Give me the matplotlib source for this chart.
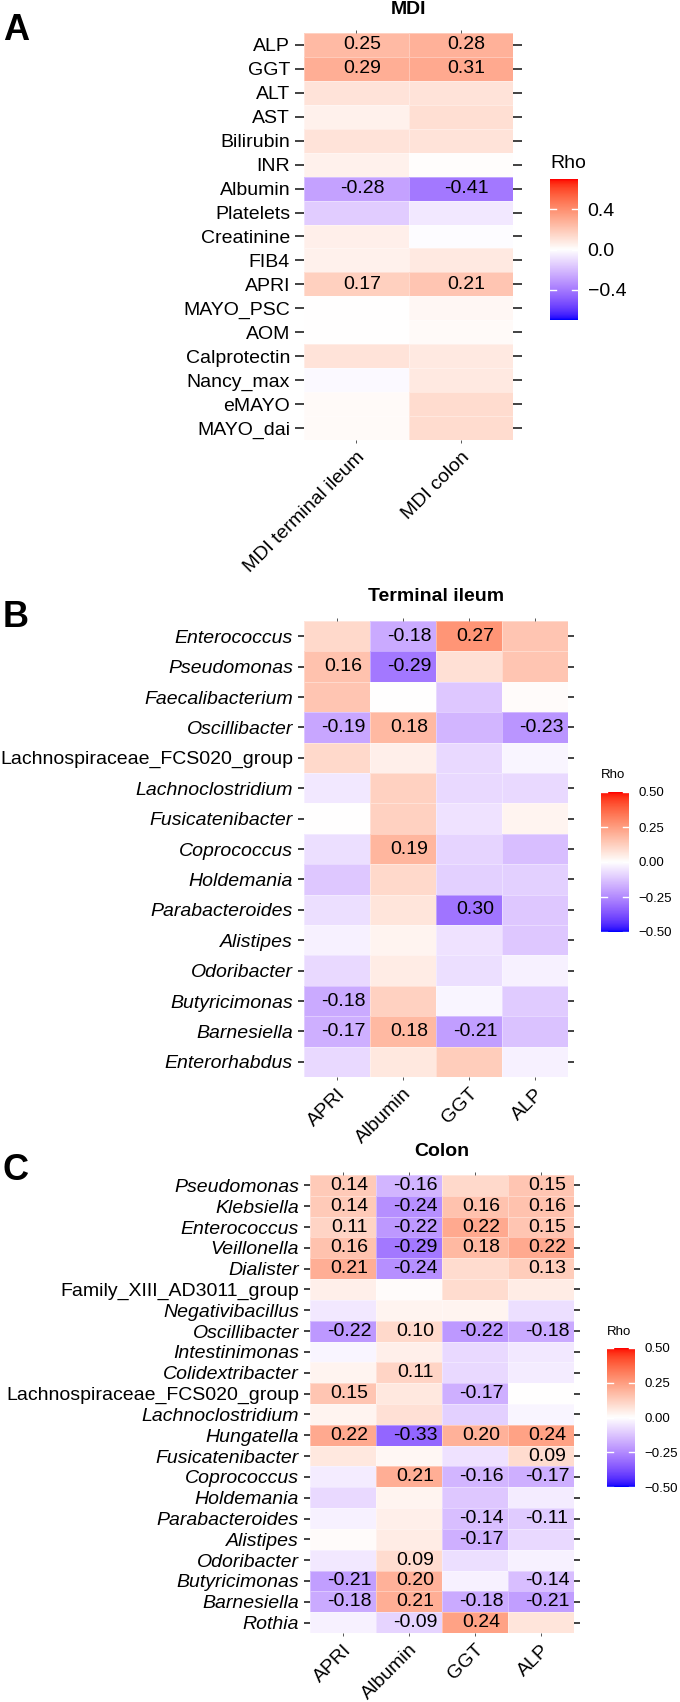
import numpy as np
import matplotlib
matplotlib.use("Agg")
import matplotlib.pyplot as plt
from matplotlib.colors import ListedColormap
from matplotlib.transforms import offset_copy

plt.rcParams['font.family'] = ['Liberation Sans', 'DejaVu Sans']

# ---- panel A: MDI vs clinical parameters
mdi_rows = ['ALP', 'GGT', 'ALT', 'AST', 'Bilirubin', 'INR', 'Albumin', 'Platelets',
            'Creatinine', 'FIB4', 'APRI', 'MAYO_PSC', 'AOM', 'Calprotectin',
            'Nancy_max', 'eMAYO', 'MAYO_dai']
mdi_cols = ['MDI terminal ileum', 'MDI colon']
mdi_rho = [[0.25, 0.28], [0.29, 0.31], [0.10, 0.10], [0.05, 0.12], [0.10, 0.10],
           [0.05, 0.01], [-0.28, -0.41], [-0.15, -0.07], [0.06, -0.01], [0.05, 0.08],
           [0.17, 0.21], [0.00, 0.03], [0.00, 0.02], [0.10, 0.08], [-0.02, 0.08],
           [0.02, 0.13], [0.02, 0.13]]
mdi_text = [['0.25', '0.28'], ['0.29', '0.31'], ['', ''], ['', ''], ['', ''], ['', ''],
            ['-0.28', '-0.41'], ['', ''], ['', ''], ['', ''], ['0.17', '0.21'],
            ['', ''], ['', ''], ['', ''], ['', ''], ['', ''], ['', '']]

# ---- panel B: terminal ileum taxa
clin_cols = ['APRI', 'Albumin', 'GGT', 'ALP']
ti_rows = ['Enterococcus', 'Pseudomonas', 'Faecalibacterium', 'Oscillibacter',
           'Lachnospiraceae_FCS020_group', 'Lachnoclostridium', 'Fusicatenibacter',
           'Coprococcus', 'Holdemania', 'Parabacteroides', 'Alistipes', 'Odoribacter',
           'Butyricimonas', 'Barnesiella', 'Enterorhabdus']
ti_rho = [[0.10, -0.18, 0.27, 0.15],
          [0.16, -0.29, 0.08, 0.15],
          [0.15, 0.00, -0.12, 0.01],
          [-0.19, 0.18, -0.16, -0.23],
          [0.10, 0.04, -0.08, -0.02],
          [-0.05, 0.12, -0.08, -0.08],
          [0.00, 0.12, -0.06, 0.03],
          [-0.07, 0.19, -0.09, -0.14],
          [-0.12, 0.10, -0.10, -0.10],
          [-0.07, 0.07, -0.30, -0.12],
          [-0.03, 0.03, -0.06, -0.12],
          [-0.08, 0.05, -0.07, -0.03],
          [-0.18, 0.12, -0.02, -0.11],
          [-0.17, 0.18, -0.21, -0.13],
          [-0.08, 0.06, 0.13, -0.03]]
ti_text = [['', '-0.18', '0.27', ''],
           ['0.16', '-0.29', '', ''],
           ['', '', '', ''],
           ['-0.19', '0.18', '', '-0.23'],
           ['', '', '', ''], ['', '', '', ''], ['', '', '', ''],
           ['', '0.19', '', ''],
           ['', '', '', ''],
           ['', '', '0.30', ''],
           ['', '', '', ''], ['', '', '', ''],
           ['-0.18', '', '', ''],
           ['-0.17', '0.18', '-0.21', ''],
           ['', '', '', '']]

# ---- panel C: colon taxa
co_rows = ['Pseudomonas', 'Klebsiella', 'Enterococcus', 'Veillonella', 'Dialister',
           'Family_XIII_AD3011_group', 'Negativibacillus', 'Oscillibacter',
           'Intestinimonas', 'Colidextribacter', 'Lachnospiraceae_FCS020_group',
           'Lachnoclostridium', 'Hungatella', 'Fusicatenibacter', 'Coprococcus',
           'Holdemania', 'Parabacteroides', 'Alistipes', 'Odoribacter',
           'Butyricimonas', 'Barnesiella', 'Rothia']
co_rho = [[0.14, -0.16, 0.10, 0.15],
          [0.14, -0.24, 0.16, 0.16],
          [0.11, -0.22, 0.22, 0.15],
          [0.16, -0.29, 0.18, 0.22],
          [0.21, -0.24, 0.09, 0.13],
          [0.04, 0.01, 0.09, 0.05],
          [-0.05, 0.03, 0.03, -0.07],
          [-0.22, 0.10, -0.22, -0.18],
          [-0.02, 0.04, -0.08, -0.05],
          [0.03, 0.11, -0.08, -0.04],
          [0.15, 0.06, -0.17, 0.00],
          [0.03, 0.08, -0.10, -0.02],
          [0.22, -0.33, 0.20, 0.24],
          [0.06, 0.02, -0.06, 0.09],
          [-0.04, 0.21, -0.16, -0.17],
          [-0.08, 0.03, -0.12, -0.04],
          [-0.03, 0.04, -0.14, -0.11],
          [0.01, 0.05, -0.17, -0.08],
          [-0.05, 0.09, -0.07, -0.03],
          [-0.21, 0.20, -0.03, -0.14],
          [-0.18, 0.21, -0.18, -0.21],
          [-0.03, -0.09, 0.24, 0.07]]
co_text = [['0.14', '-0.16', '', '0.15'],
           ['0.14', '-0.24', '0.16', '0.16'],
           ['0.11', '-0.22', '0.22', '0.15'],
           ['0.16', '-0.29', '0.18', '0.22'],
           ['0.21', '-0.24', '', '0.13'],
           ['', '', '', ''], ['', '', '', ''],
           ['-0.22', '0.10', '-0.22', '-0.18'],
           ['', '', '', ''],
           ['', '0.11', '', ''],
           ['0.15', '', '-0.17', ''],
           ['', '', '', ''],
           ['0.22', '-0.33', '0.20', '0.24'],
           ['', '', '', '0.09'],
           ['', '0.21', '-0.16', '-0.17'],
           ['', '', '', ''],
           ['', '', '-0.14', '-0.11'],
           ['', '', '-0.17', ''],
           ['', '0.09', '', ''],
           ['-0.21', '0.20', '', '-0.14'],
           ['-0.18', '0.21', '-0.18', '-0.21'],
           ['', '-0.09', '0.24', '']]

upright = ['Lachnospiraceae_FCS020_group', 'Family_XIII_AD3011_group']


# blue-white-red gradient interpolated in Lab space (like ggplot's gradient2)
def to_lab(rgb):
    c = np.array(rgb, dtype=float)
    c = np.where(c <= 0.04045, c / 12.92, ((c + 0.055) / 1.055) ** 2.4)
    m = np.array([[0.4124, 0.3576, 0.1805], [0.2126, 0.7152, 0.0722], [0.0193, 0.1192, 0.9505]])
    xyz = m @ c / np.array([0.95047, 1.0, 1.08883])
    f = np.where(xyz > 0.008856, np.cbrt(xyz), 7.787 * xyz + 16 / 116)
    return np.array([116 * f[1] - 16, 500 * (f[0] - f[1]), 200 * (f[1] - f[2])])


def from_lab(lab):
    fy = (lab[0] + 16) / 116
    f = np.array([fy + lab[1] / 500, fy, fy - lab[2] / 200])
    xyz = np.where(f ** 3 > 0.008856, f ** 3, (f - 16 / 116) / 7.787) * np.array([0.95047, 1.0, 1.08883])
    mi = np.array([[3.2406, -1.5372, -0.4986], [-0.9689, 1.8758, 0.0415], [0.0557, -0.2040, 1.0570]])
    c = np.clip(mi @ xyz, 0, 1)
    c = np.where(c <= 0.0031308, 12.92 * c, 1.055 * c ** (1 / 2.4) - 0.055)
    return np.clip(c, 0, 1)


lo, mid, hi = to_lab([0, 0, 1]), to_lab([1, 1, 1]), to_lab([1, 0, 0])
cols = []
for t in np.linspace(0, 1, 256):
    if t < 0.5:
        cols.append(from_lab(lo + (mid - lo) * t * 2))
    else:
        cols.append(from_lab(mid + (hi - mid) * (t - 0.5) * 2))
cmap = ListedColormap(cols)

W, H = 680, 1702
fig = plt.figure(figsize=(W / 100, H / 100), dpi=100)


def add(l, t, r, b):
    return fig.add_axes([l / W, 1 - b / H, (r - l) / W, (b - t) / H])


def heat(box, rows, xcols, rho, text, lim, ylen, italic):
    ax = add(*box)
    ax.pcolormesh(np.arange(len(xcols) + 1) - 0.5, np.arange(len(rows) + 1) - 0.5, np.array(rho),
                  cmap=cmap, vmin=-lim, vmax=lim, edgecolors=(1, 1, 1, 0.35), linewidth=0.4)
    ax.set_xlim(-0.5, len(xcols) - 0.5)
    ax.set_ylim(len(rows) - 0.5, -0.5)
    ax.set_xticks(range(len(xcols)))
    ax.set_xticklabels(xcols, rotation=45, ha='right', va='top', rotation_mode='anchor', fontsize=14)
    ax.set_yticks(range(len(rows)))
    ax.set_yticklabels(rows, fontsize=14)
    for s in ax.spines.values():
        s.set_visible(False)
    ax.tick_params(axis='y', left=True, right=True, length=ylen, width=1.3, color='#333333', pad=3.5)
    ax.tick_params(axis='x', bottom=True, top=True, length=2, width=0.7, color='#555555', pad=4)
    tr = offset_copy(ax.transData, fig=fig, x=6, y=0, units='dots')
    for i, row in enumerate(text):
        for j, t in enumerate(row):
            if t:
                ax.text(j, i, t, transform=tr, ha='center', va='center', fontsize=14)
    if italic:
        for lab in ax.get_yticklabels():
            if lab.get_text() not in upright:
                lab.set_fontstyle('italic')
    return ax


def cbar(box, lim, ticks, labels, fs, pad, rho_y):
    cax = add(*box)
    grad = np.linspace(-lim, lim, 300).reshape(-1, 1)
    cax.imshow(grad, cmap=cmap, vmin=-lim, vmax=lim, aspect='auto', origin='lower',
               extent=[0, 1, -lim, lim])
    cax.set_xlim(0, 1)
    cax.set_ylim(-lim, lim)
    cax.set_xticks([])
    cax.yaxis.tick_right()
    cax.set_yticks(ticks)
    cax.set_yticklabels(labels, fontsize=fs)
    cax.tick_params(axis='y', length=0, pad=pad)
    for s in cax.spines.values():
        s.set_visible(False)
    for t in ticks:
        cax.plot([0, 0.2], [t, t], color='white', lw=1)
        cax.plot([0.8, 1], [t, t], color='white', lw=1)
    fig.text(box[0] / W, 1 - rho_y / H, 'Rho', fontsize=fs, ha='left', va='center')


# panel A
heat((304, 33, 513, 440), mdi_rows, mdi_cols, mdi_rho, mdi_text, 0.7, 6.5, False)
cbar((550, 179, 578, 320), 0.7, [-0.4, 0, 0.4], ['\u22120.4', '0.0', '0.4'], 14, 7, 163)
fig.text(408 / W, 1 - 10 / H, 'MDI', fontsize=14, fontweight='bold', ha='center', va='center')
fig.text(3 / W, 1 - 40 / H, 'A', fontsize=26, fontweight='bold', ha='left', va='baseline')

# panel B
heat((304, 621, 568, 1077), ti_rows, clin_cols, ti_rho, ti_text, 0.5, 4.5, True)
cbar((601, 792, 629, 932), 0.5, [-0.5, -0.25, 0, 0.25, 0.5],
     ['\u22120.50', '\u22120.25', '0.00', '0.25', '0.50'], 9.5, 6.5, 775)
fig.text(436 / W, 1 - 597 / H, 'Terminal ileum', fontsize=14, fontweight='bold', ha='center', va='center')
fig.text(3 / W, 1 - 627 / H, 'B', fontsize=26, fontweight='bold', ha='left', va='baseline')

# panel C
heat((310, 1175, 574, 1633), co_rows, clin_cols, co_rho, co_text, 0.5, 4.5, True)
cbar((607, 1348, 635, 1487), 0.5, [-0.5, -0.25, 0, 0.25, 0.5],
     ['\u22120.50', '\u22120.25', '0.00', '0.25', '0.50'], 9.5, 6.5, 1332)
fig.text(442 / W, 1 - 1152 / H, 'Colon', fontsize=14, fontweight='bold', ha='center', va='center')
fig.text(3 / W, 1 - 1180 / H, 'C', fontsize=26, fontweight='bold', ha='left', va='baseline')

fig.savefig('out.png', dpi=100)
